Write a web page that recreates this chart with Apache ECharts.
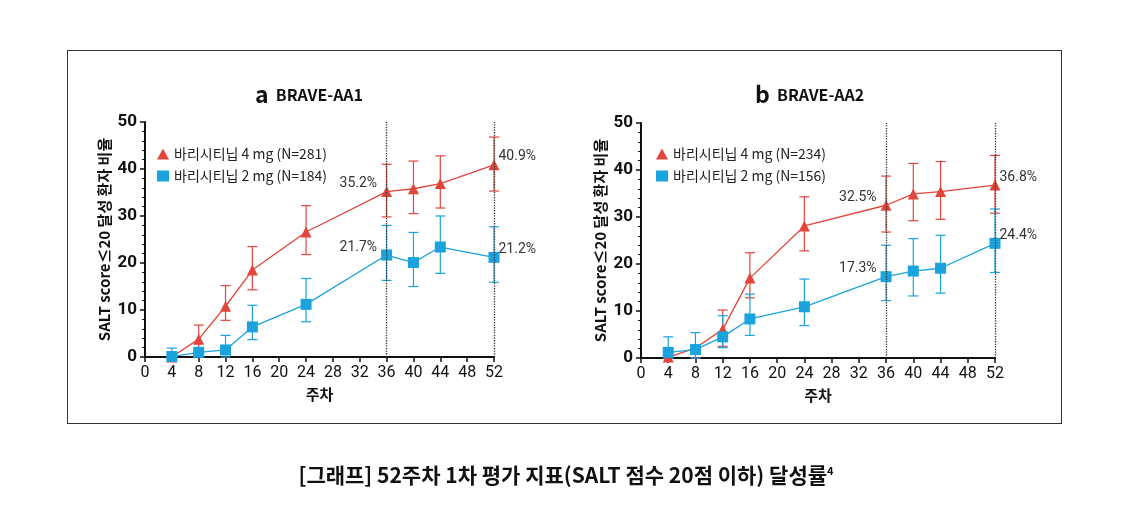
<!DOCTYPE html>
<html>
<head>
<meta charset="utf-8">
<script src="https://cdn.jsdelivr.net/npm/echarts@6/dist/echarts.min.js"></script>
<style>
  html, body { margin: 0; padding: 0; background: #fff; }
  #frame { position: absolute; left: 67px; top: 50px; width: 995px; height: 374px; border: 1px solid #333; box-sizing: border-box; }
  #chart { position: absolute; left: 0; top: 0; width: 1132px; height: 507px; }
</style>
</head>
<body>
<div id="frame"></div>
<div id="chart"></div>
<script>
const weeks = [4, 8, 12, 16, 24, 36, 40, 44, 52];

const a4mg = [0, 3.8, 10.8, 18.5, 26.6, 35.2, 35.8, 36.9, 40.9];
const a4mgLow = [0, 1.5, 7.8, 14.3, 21.8, 29.8, 30.5, 31.7, 35.3];
const a4mgHigh = [1, 6.8, 15.2, 23.5, 32.2, 41, 41.7, 42.8, 46.8];
const a2mg = [0.1, 1, 1.5, 6.4, 11.2, 21.7, 20.1, 23.4, 21.2];
const a2mgLow = [0, 0, 0, 3.7, 7.5, 16.3, 15, 17.8, 15.9];
const a2mgHigh = [1.9, 2, 4.6, 11, 16.7, 28, 26.5, 30, 27.7];

const b4mg = [0.2, 2.1, 6.1, 17, 28.1, 32.5, 34.9, 35.4, 36.8];
const b4mgLow = [0, 0, 2.5, 12.8, 22.8, 26.8, 29.2, 29.5, 30.8];
const b4mgHigh = [2.2, 2.5, 10.2, 22.4, 34.3, 38.7, 41.4, 41.8, 43.1];
const b2mg = [1.2, 1.8, 4.5, 8.3, 10.9, 17.3, 18.5, 19.1, 24.4];
const b2mgLow = [0, 0, 2.2, 4.8, 6.9, 12.2, 13.2, 13.8, 18.2];
const b2mgHigh = [4.5, 5.4, 9, 13.6, 16.8, 24, 25.4, 26.1, 31.7];

const labelWeeks = [36, 52];
const RED = '#e0463c', BLUE = '#1aa3dc';

const chart = echarts.init(document.getElementById('chart'));

function xAxis(i) {
  return {
    gridIndex: i, type: 'value', min: 0, max: 52, interval: 4,
    name: '주차', nameLocation: 'middle', nameGap: 30,
    nameTextStyle: { fontSize: 15, fontWeight: 'bold', color: '#111' },
    axisLine: { lineStyle: { color: '#111', width: 2 } },
    axisTick: { show: true, length: 5, lineStyle: { color: '#111', width: 1.5 } },
    axisLabel: { fontSize: 16, color: '#111', fontFamily: 'Roboto' },
    splitLine: { show: false }
  };
}
function yAxis(i) {
  return {
    gridIndex: i, type: 'value', min: 0, max: 50, interval: 10,
    name: 'SALT score≤20 달성 환자 비율', nameLocation: 'middle', nameGap: 33,
    nameTextStyle: { fontSize: 15, fontWeight: 'bold', color: '#111' },
    axisLine: { show: true, lineStyle: { color: '#111', width: 2 } },
    axisTick: { show: true, length: 5, lineStyle: { color: '#111', width: 1.5 } },
    minorTick: { show: true, splitNumber: 5, length: 3, lineStyle: { color: '#111' } },
    axisLabel: { fontSize: 17, fontWeight: 'bold', color: '#111', fontFamily: 'Roboto' },
    splitLine: { show: false }
  };
}

function pairs(ys) { return weeks.map((w, i) => [w, ys[i]]); }

function lineSeries(i, name, ys, color, symbol, size, withLines) {
  return {
    name: name, type: 'line', xAxisIndex: i, yAxisIndex: i,
    data: pairs(ys).map(d => ({
      value: d,
      label: d[0] === 52 ? { position: 'insideLeft', offset: [6, -8] } : { position: 'left', offset: [0, -8] }
    })),
    color: color, symbol: symbol, symbolSize: size,
    lineStyle: { width: 1.3, color: color }, z: 3,
    label: {
      show: true, fontSize: 14, color: '#333', fontFamily: 'Roboto',
      formatter: p => labelWeeks.includes(p.value[0]) ? p.value[1].toFixed(1) + '%' : '',
      distance: 4
    },
    markLine: withLines ? {
      silent: true, symbol: 'none', label: { show: false },
      lineStyle: { type: 'dotted', color: '#333', width: 1.3 },
      data: labelWeeks.map(w => ({ xAxis: w }))
    } : undefined
  };
}

function errSeries(i, low, high, color) {
  return {
    type: 'custom', xAxisIndex: i, yAxisIndex: i, z: 2,
    data: weeks.map((w, k) => [w, low[k], high[k]]),
    renderItem: (params, api) => {
      const a = api.coord([api.value(0), api.value(1)]);
      const b = api.coord([api.value(0), api.value(2)]);
      const hw = 5;
      const st = { stroke: color, lineWidth: 1.2 };
      return { type: 'group', children: [
        { type: 'line', shape: { x1: a[0], y1: a[1], x2: b[0], y2: b[1] }, style: st },
        { type: 'line', shape: { x1: a[0] - hw, y1: a[1], x2: a[0] + hw, y2: a[1] }, style: st },
        { type: 'line', shape: { x1: b[0] - hw, y1: b[1], x2: b[0] + hw, y2: b[1] }, style: st }
      ] };
    }
  };
}

const series = [
  errSeries(0, a4mgLow, a4mgHigh, RED),
  errSeries(0, a2mgLow, a2mgHigh, BLUE),
  lineSeries(0, '바리시티닙 4 mg (N=281)', a4mg, RED, 'triangle', 11, true),
  lineSeries(0, '바리시티닙 2 mg (N=184)', a2mg, BLUE, 'rect', 11, false),
  errSeries(1, b4mgLow, b4mgHigh, RED),
  errSeries(1, b2mgLow, b2mgHigh, BLUE),
  lineSeries(1, '바리시티닙 4 mg (N=234)', b4mg, RED, 'triangle', 11, true),
  lineSeries(1, '바리시티닙 2 mg (N=156)', b2mg, BLUE, 'rect', 11, false)
];

const legendStyle = { fontSize: 14, color: '#222', fontFamily: 'Noto Sans CJK KR' };

chart.setOption({
  animation: false,
  textStyle: { fontFamily: 'Noto Sans CJK KR' },
  title: [
    { text: '{a|a}  BRAVE-AA1', left: 250, top: 78, textStyle: { fontSize: 16, fontWeight: 'bold', color: '#111', rich: { a: { fontSize: 23, fontWeight: 'bold' } } } },
    { text: '{a|b}  BRAVE-AA2', left: 750, top: 78, textStyle: { fontSize: 16, fontWeight: 'bold', color: '#111', rich: { a: { fontSize: 23, fontWeight: 'bold' } } } },
    { text: '[그래프] 52주차 1차 평가 지표(SALT 점수 20점 이하) 달성률{s|4}', left: 'center', top: 460, textStyle: { fontSize: 21, fontWeight: 'bold', color: '#111', rich: { s: { fontSize: 11, fontWeight: 'bold', verticalAlign: 'top', padding: [0, 0, 10, 0] } } } }
  ],
  legend: [
    { orient: 'vertical', left: 152, top: 142, itemGap: 8, itemWidth: 12, itemHeight: 11, textStyle: legendStyle,
      data: [{ name: '바리시티닙 4 mg (N=281)', icon: 'triangle' }, { name: '바리시티닙 2 mg (N=184)', icon: 'rect' }] },
    { orient: 'vertical', left: 651, top: 142, itemGap: 8, itemWidth: 12, itemHeight: 11, textStyle: legendStyle,
      data: [{ name: '바리시티닙 4 mg (N=234)', icon: 'triangle' }, { name: '바리시티닙 2 mg (N=156)', icon: 'rect' }] }
  ],
  grid: [
    { left: 145, top: 122, width: 349, height: 235 },
    { left: 641, top: 123, width: 354, height: 235 }
  ],
  xAxis: [xAxis(0), xAxis(1)],
  yAxis: [yAxis(0), yAxis(1)],
  series: series
});
</script>
</body>
</html>
